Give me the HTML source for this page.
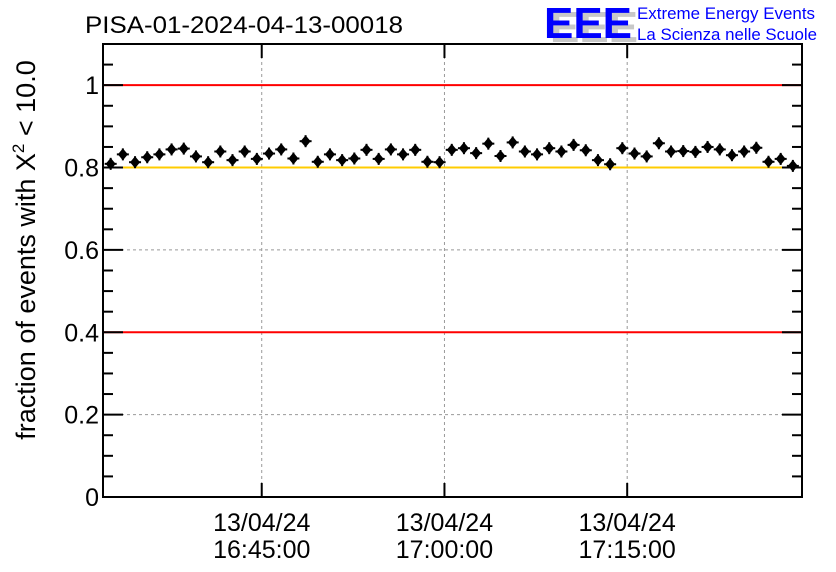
<!DOCTYPE html>
<html><head><meta charset="utf-8"><style>
html,body{margin:0;padding:0;background:#fff;}
svg{display:block;font-family:"Liberation Sans",sans-serif;}
</style></head><body>
<svg id="chart" width="836" height="572" viewBox="0 0 836 572">
<text x="85" y="33" font-size="24" fill="#000" textLength="318" lengthAdjust="spacingAndGlyphs">PISA-01-2024-04-13-00018</text>
<g>
<text x="550" y="42" font-size="44" font-weight="bold" fill="#c8c8c8" textLength="88" lengthAdjust="spacingAndGlyphs">EEE</text>
<text x="544" y="38" font-size="44" font-weight="bold" fill="#0000ff" textLength="88" lengthAdjust="spacingAndGlyphs">EEE</text>
<text x="637" y="19" font-size="17" fill="#0000ff" textLength="178" lengthAdjust="spacingAndGlyphs">Extreme Energy Events</text>
<text x="637" y="40" font-size="17" fill="#0000ff" textLength="180" lengthAdjust="spacingAndGlyphs">La Scienza nelle Scuole</text>
</g>
<text transform="translate(35,250) rotate(-90)" text-anchor="middle" font-size="27" fill="#000">fraction of events with Χ<tspan font-size="17" dy="-11">2</tspan><tspan dy="11"> &lt; 10.0</tspan></text>
<g id="grid"></g><g id="axes"></g><g id="marks"></g>
</svg>
<script>
const times = [32.6,33.6,34.6,35.6,36.6,37.6,38.6,39.6,40.6,41.6,42.6,43.6,44.6,45.6,46.6,47.6,48.6,49.6,50.6,51.6,52.6,53.6,54.6,55.6,56.6,57.6,58.6,59.6,60.6,61.6,62.6,63.6,64.6,65.6,66.6,67.6,68.6,69.6,70.6,71.6,72.6,73.6,74.6,75.6,76.6,77.6,78.6,79.6,80.6,81.6,82.6,83.6,84.6,85.6,86.6,87.6,88.6];
const values = [0.809,0.832,0.813,0.825,0.832,0.844,0.846,0.827,0.813,0.839,0.818,0.839,0.821,0.834,0.844,0.822,0.864,0.814,0.832,0.818,0.822,0.843,0.821,0.844,0.832,0.843,0.814,0.813,0.843,0.847,0.835,0.858,0.828,0.861,0.839,0.832,0.847,0.839,0.855,0.842,0.818,0.808,0.847,0.834,0.827,0.859,0.839,0.840,0.838,0.850,0.844,0.830,0.839,0.848,0.814,0.821,0.804];
const yTicks = [0,0.2,0.4,0.6,0.8,1];
const yTickLabels = ["0","0.2","0.4","0.6","0.8","1"];
const xTicks = [45,60,75];
const xDateLabels = ["13/04/24","13/04/24","13/04/24"];
const xTimeLabels = ["16:45:00","17:00:00","17:15:00"];
const refLines = [1.0,0.8,0.4];
const refColors = ["#ff0000","#ffcc00","#ff0000"];

const L=103,R=802,T=44,B=497;
const X0=31.97, X1=89.35, Y0=0, Y1=1.1;
const sx=v=>L+(v-X0)/(X1-X0)*(R-L);
const sy=v=>B-(v-Y0)/(Y1-Y0)*(B-T);
const NS="http://www.w3.org/2000/svg";
function mk(tag,attrs,parent){const e=document.createElementNS(NS,tag);for(const k in attrs)e.setAttribute(k,attrs[k]);parent.appendChild(e);return e;}
const grid=document.getElementById('grid'),axes=document.getElementById('axes'),marks=document.getElementById('marks');

yTicks.forEach(v=>{if(v>0&&!refLines.includes(v)){const g=mk('line',{x1:L,x2:R,y1:sy(v),y2:sy(v),stroke:'#999','stroke-dasharray':'3,3','stroke-width':1},grid);

}});
xTicks.forEach(v=>{const g=mk('line',{x1:sx(v),x2:sx(v),y1:T,y2:B,stroke:'#999','stroke-dasharray':'3,3','stroke-width':1},grid);

});
refLines.forEach((v,i)=>{const g=mk('line',{x1:L,x2:R,y1:sy(v),y2:sy(v),stroke:refColors[i],'stroke-width':2},grid);

});

const fr=mk('rect',{x:L,y:T,width:R-L,height:B-T,fill:'none',stroke:'#000','stroke-width':2},axes);


for(let v=0;v<=1.1001;v+=0.05){const major=Math.abs(v/0.2-Math.round(v/0.2))<1e-6;const len=major?20:10;const y=sy(v);
mk('line',{x1:L,x2:L+len,y1:y,y2:y,stroke:'#000','stroke-width':2},axes);
mk('line',{x1:R,x2:R-len,y1:y,y2:y,stroke:'#000','stroke-width':2},axes);}
yTicks.forEach((v,i)=>{const t=mk('text',{x:L-4,y:sy(v)+9,'text-anchor':'end','font-size':25,fill:'#000'},axes);t.textContent=yTickLabels[i];

});
xTicks.forEach((v,i)=>{const x=sx(v);
mk('line',{x1:x,x2:x,y1:B,y2:B-14,stroke:'#000','stroke-width':2},axes);
mk('line',{x1:x,x2:x,y1:T,y2:T+14,stroke:'#000','stroke-width':2},axes);
const t1=mk('text',{x:x,y:531,'text-anchor':'middle','font-size':25,fill:'#000'},axes);t1.textContent=xDateLabels[i];


const t2=mk('text',{x:x,y:558,'text-anchor':'middle','font-size':25,fill:'#000'},axes);t2.textContent=xTimeLabels[i];

});

times.forEach((t,i)=>{const x=sx(t),y=sy(values[i]);
const g=mk('g',{},marks);


mk('line',{x1:x-6,x2:x+6,y1:y,y2:y,stroke:'#000','stroke-width':2},g);
mk('line',{x1:x,x2:x,y1:y-6,y2:y+6,stroke:'#000','stroke-width':2},g);
mk('polygon',{points:`${x},${y-6} ${x+5},${y} ${x},${y+6} ${x-5},${y}`,fill:'#000'},g);});
</script>
</body></html>
